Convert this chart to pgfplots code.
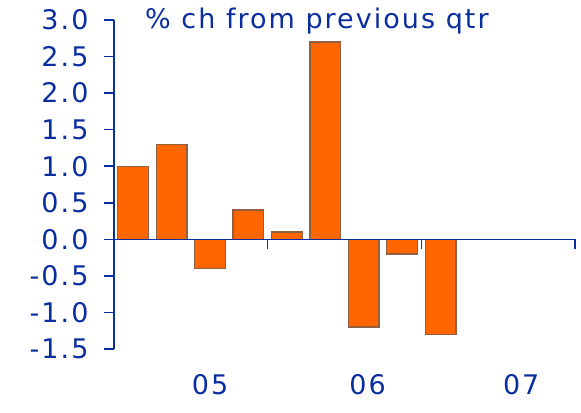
\documentclass[border=0pt]{standalone}
\usepackage{pgfplots}
\pgfplotsset{compat=1.18}
\usepackage{fontspec}
\setmainfont{DejaVu Sans}[LetterSpace=7.5]
\definecolor{axisblue}{RGB}{10,46,160}
\definecolor{barorange}{RGB}{255,102,0}
\definecolor{baredge}{RGB}{145,95,65}
\begin{document}
\begin{tikzpicture}[
  yearlab/.style={anchor=center, text=axisblue, font=\fontsize{27bp}{32bp}\selectfont, yshift=-36bp},
]
\useasboundingbox (-114bp,-64bp) rectangle (467bp,349bp);
\begin{axis}[
  scale only axis,
  width=461bp, height=329bp,
  xmin=0, xmax=12,
  ymin=-1.5, ymax=3,
  axis x line=middle,
  axis y line=left,
  axis line style={-, axisblue, line width=1.5bp},
  axis on top,
  tick align=outside,
  major tick length=10bp,
  tick style={axisblue, line width=1.5bp},
  xtick={4,8,12},
  xticklabels={},
  ytick={-1.5,-1,...,3},
  yticklabel style={
    /pgf/number format/fixed,
    /pgf/number format/fixed zerofill,
    /pgf/number format/precision=1,
    /pgf/number format/assume math mode=true,
    font=\fontsize{27bp}{32bp}\selectfont,
    text=axisblue,
    xshift=-12bp,
  },
  ybar,
  bar width=0.8,
  clip=false,
]
\addplot[fill=barorange, draw=baredge, line width=1.2bp] coordinates {
  (0.5,1.0) (1.5,1.3) (2.5,-0.4) (3.5,0.4) (4.5,0.1)
  (5.5,2.7) (6.5,-1.2) (7.5,-0.2) (8.5,-1.3)
};
\node[anchor=base west, inner sep=0pt, text=axisblue, font=\fontsize{27bp}{32bp}\selectfont]
  at (axis cs:0,3) [xshift=31bp, yshift=-8bp] {\% ch from previous qtr};
\node[yearlab] at (axis cs:2.5,-1.5) {05};
\node[yearlab] at (axis cs:6.6,-1.5) {06};
\node[yearlab] at (axis cs:10.6,-1.5) {07};
\end{axis}
\end{tikzpicture}
\end{document}
